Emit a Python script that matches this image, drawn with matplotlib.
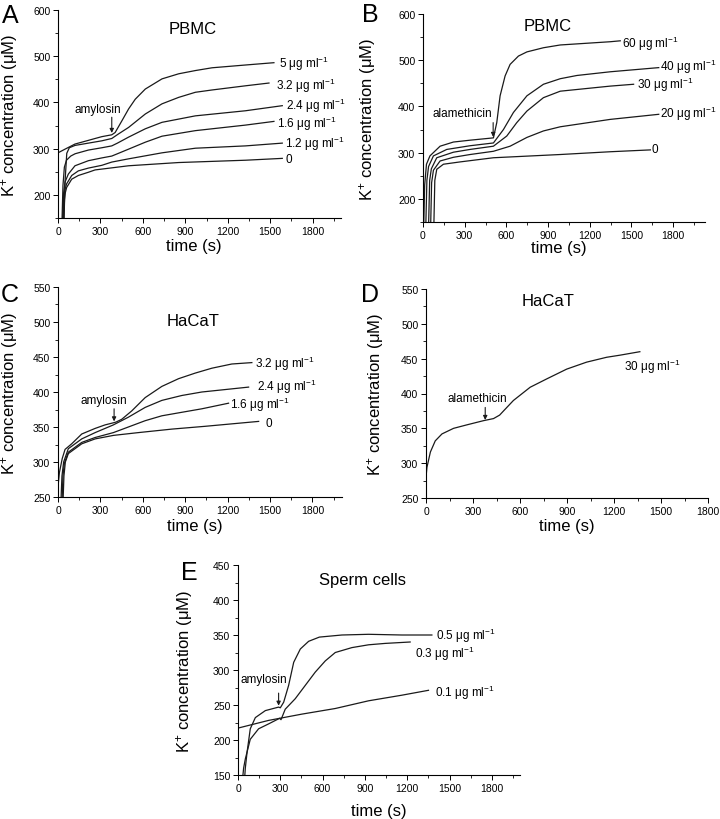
import matplotlib
matplotlib.use('Agg')
import matplotlib.pyplot as plt
from matplotlib.ticker import MultipleLocator

plt.rcParams['font.family'] = ['Liberation Sans', 'DejaVu Sans']
plt.rcParams['mathtext.fontset'] = 'custom'
plt.rcParams['mathtext.rm'] = 'Liberation Sans'
plt.rcParams['mathtext.it'] = 'Liberation Sans:italic'

# ---- Panel A: PBMC, amylosin ----
a_labels = ['5', '3.2', '2.4', '1.6', '1.2', '0']
a_t = [
    [0, 50, 120, 215, 262, 310, 380, 404, 451, 499, 546, 617, 735, 853, 971, 1089, 1325, 1526],
    [42, 50, 62, 80, 120, 215, 310, 380, 428, 499, 617, 735, 853, 971, 1089, 1325, 1491],
    [28, 35, 45, 60, 90, 121, 215, 310, 380, 420, 499, 617, 735, 971, 1325, 1585],
    [32, 40, 50, 73, 120, 215, 310, 380, 420, 499, 617, 735, 971, 1325, 1526],
    [35, 42, 50, 61, 97, 144, 215, 310, 380, 499, 735, 971, 1325, 1585],
    [40, 46, 52, 61, 97, 144, 215, 262, 499, 853, 1325, 1585],
]
a_y = [
    [291, 299, 310, 318, 322, 326, 330, 335, 360, 386, 407, 429, 451, 462, 469, 475, 481, 486],
    [140, 230, 290, 302, 307, 312, 317, 322, 332, 346, 375, 397, 411, 422, 427, 436, 442],
    [140, 220, 260, 275, 284, 289, 297, 302, 306, 312, 325, 343, 357, 371, 382, 393],
    [140, 205, 228, 245, 263, 274, 280, 284, 289, 299, 314, 327, 339, 351, 359],
    [140, 195, 212, 224, 242, 252, 258, 264, 271, 278, 291, 301, 306, 312],
    [140, 190, 205, 216, 234, 242, 249, 254, 263, 270, 275, 279],
]
a_lab_pos = [(1561, 485), (1543, 439), (1609, 395), (1550, 356), (1604, 312), (1609, 278)]

# ---- Panel B: PBMC, alamethicin ----
b_labels = ['60', '40', '30', '20', '0']
b_t = [
    [5, 12, 25, 50, 123, 219, 339, 507, 531, 555, 591, 627, 687, 748, 867, 988, 1348, 1420],
    [20, 28, 40, 75, 171, 339, 507, 579, 651, 748, 867, 988, 1108, 1348, 1697],
    [40, 48, 60, 99, 219, 339, 507, 603, 675, 748, 867, 988, 1348, 1516],
    [55, 62, 75, 123, 219, 339, 507, 627, 748, 867, 988, 1348, 1697],
    [78, 85, 99, 147, 267, 507, 988, 1348, 1637],
]
b_y = [
    [140, 230, 275, 293, 314, 323, 327, 332, 365, 423, 466, 491, 509, 518, 527, 533, 540, 542],
    [140, 240, 270, 293, 307, 315, 321, 350, 387, 423, 448, 460, 467, 475, 484],
    [140, 240, 265, 289, 301, 307, 314, 336, 365, 390, 419, 433, 444, 448],
    [140, 235, 262, 282, 290, 296, 303, 314, 333, 347, 356, 372, 383],
    [140, 240, 264, 275, 280, 289, 296, 302, 306],
]
b_lab_pos = [(1432, 538), (1704, 488), (1540, 448), (1704, 385), (1644, 307)]

# ---- Panel C: HaCaT, amylosin ----
c_labels = ['3.2', '2.4', '1.6', '0']
c_t = [
    [0, 10, 30, 50, 97, 168, 263, 333, 392, 410, 451, 522, 617, 735, 853, 971, 1089, 1230, 1372],
    [20, 28, 40, 73, 168, 263, 392, 498, 617, 735, 876, 1018, 1160, 1349],
    [28, 35, 45, 73, 168, 263, 392, 498, 617, 735, 876, 1018, 1207],
    [35, 42, 52, 73, 168, 263, 392, 569, 806, 1042, 1420],
]
c_y = [
    [265, 285, 305, 318, 326, 340, 348, 353, 356, 357, 361, 373, 392, 408, 419, 427, 434, 440, 442],
    [240, 280, 300, 319, 333, 342, 353, 364, 378, 388, 395, 400, 403, 407],
    [240, 280, 298, 314, 328, 335, 342, 350, 359, 366, 371, 376, 384],
    [240, 280, 300, 312, 326, 333, 338, 342, 347, 351, 358],
]
c_lab_pos = [(1396, 442), (1408, 409), (1219, 383), (1472, 356)]

# ---- Panel D: HaCaT, alamethicin ----
d_labels = ['30']
d_t = [[0, 6, 28, 59, 102, 176, 261, 367, 431, 470, 495, 558, 665, 771, 898, 1025, 1153, 1238, 1365]]
d_y = [[280, 294, 316, 332, 342, 350, 355, 361, 364, 369, 375, 390, 409, 421, 435, 445, 452, 455, 460]]
d_lab_pos = [(1263, 440)]

# ---- Panel E: sperm cells, amylosin ----
e_labels = ['0.5', '0.3', '0.1']
e_t = [
    [45, 52, 64, 87, 123, 194, 288, 300, 324, 359, 395, 442, 501, 577, 737, 926, 1162, 1375],
    [30, 40, 52, 87, 146, 217, 295, 305, 335, 406, 477, 548, 619, 690, 808, 926, 1044, 1221],
    [0, 217, 454, 690, 926, 1162, 1351],
]
e_y = [
    [140, 160, 182, 216, 232, 242, 247, 246, 254, 278, 311, 330, 341, 347, 350, 351, 350, 350],
    [140, 160, 173, 201, 216, 223, 231, 229, 244, 259, 278, 297, 313, 325, 332, 336, 338, 340],
    [217, 228, 237, 245, 256, 264, 271],
]
e_lab_pos = [(1406, 350), (1257, 325), (1399, 269)]

fig = plt.figure(figsize=(7.2, 8.2), dpi=100)

W, H = 720, 820


def make_panel(rect_px, xlim, ylim, ymaj, ymin):
    # rect_px: left, top, right, bottom in pixels
    l, t, r, b = rect_px
    ax = fig.add_axes([l / W, 1 - b / H, (r - l) / W, (b - t) / H])
    ax.set_xlim(*xlim)
    ax.set_ylim(*ylim)
    ax.spines['top'].set_visible(False)
    ax.spines['right'].set_visible(False)
    for s in ('left', 'bottom'):
        ax.spines[s].set_linewidth(0.8)
    ax.xaxis.set_major_locator(MultipleLocator(300))
    ax.xaxis.set_minor_locator(MultipleLocator(150))
    ax.yaxis.set_major_locator(MultipleLocator(ymaj))
    ax.yaxis.set_minor_locator(MultipleLocator(ymin))
    ax.tick_params(which='major', direction='out', length=3.5, width=0.7,
                   labelsize=7.5, pad=2)
    ax.tick_params(which='minor', direction='out', length=2, width=0.6)
    return ax


def draw(ax, ts, ys, labels, lab_pos):
    for t, y, lab, (lx, ly) in zip(ts, ys, labels, lab_pos):
        ax.plot(t, y, color='#1a1a1a', lw=0.9)
        txt = lab if lab == '0' else lab + ' μg ml$^{-1}$'
        ax.text(lx, ly, txt, fontsize=8.5, ha='left', va='center', clip_on=False)


def labels(ax, rect_px, ylab_dx, xlab_dy, xlab_x=0.48):
    l, t, r, b = rect_px
    ax.set_ylabel('K$^{+}$ concentration (μM)', fontsize=12, va='center')
    ax.yaxis.set_label_coords(-ylab_dx / (r - l), 0.5)
    ax.set_xlabel('time (s)', fontsize=12, va='center')
    ax.xaxis.set_label_coords(xlab_x, -xlab_dy / (b - t))


def arrow(ax, x, y0, y1, text, tx, ty):
    ax.annotate('', xy=(x, y1), xytext=(x, y0),
                arrowprops=dict(arrowstyle='-|>', color='#1a1a1a', lw=0.8,
                                mutation_scale=6, shrinkA=0, shrinkB=0))
    ax.text(tx, ty, text, fontsize=8.5, ha='center', va='center')


# A
rA = (58, 11, 341, 219)
axA = make_panel(rA, (0, 2000), (150, 600), 100, 50)
draw(axA, a_t, a_y, a_labels, a_lab_pos)
axA.text(950, 559, 'PBMC', fontsize=12, ha='center', va='center')
arrow(axA, 380, 368, 334, 'amylosin', 279, 386)
labels(axA, rA, 48, 28)

# B
rB = (423, 15, 705, 223)
axB = make_panel(rB, (0, 2030), (150, 600), 100, 50)
draw(axB, b_t, b_y, b_labels, b_lab_pos)
axB.text(900, 575, 'PBMC', fontsize=12, ha='center', va='center')
arrow(axB, 505, 365, 334, 'alamethicin', 286, 385)
labels(axB, rB, 55, 26)

# C
rC = (58, 288, 342, 498)
axC = make_panel(rC, (0, 2010), (250, 550), 50, 25)
draw(axC, c_t, c_y, c_labels, c_lab_pos)
axC.text(957, 502, 'HaCaT', fontsize=12, ha='center', va='center')
arrow(axC, 397, 376, 358, 'amylosin', 321, 388)
labels(axC, rC, 48, 28)

# D
rD = (426, 290, 708, 499)
axD = make_panel(rD, (0, 1800), (250, 550), 50, 25)
draw(axD, d_t, d_y, d_labels, d_lab_pos)
axD.text(779, 533, 'HaCaT', fontsize=12, ha='center', va='center')
arrow(axD, 378, 380, 362, 'alamethicin', 325, 393)
labels(axD, rD, 51, 28, 0.5)

# E
rE = (238, 566, 520, 776)
axE = make_panel(rE, (0, 2000), (150, 450), 50, 25)
draw(axE, e_t, e_y, e_labels, e_lab_pos)
axE.text(886, 429, 'Sperm cells', fontsize=12, ha='center', va='center')
arrow(axE, 288, 267, 249, 'amylosin', 182, 287)
labels(axE, rE, 53, 36, 0.5)

# panel letters
for letter, px, py in [('A', 2, 23), ('B', 362, 22), ('C', 1, 302),
                       ('D', 361, 302), ('E', 181, 580)]:
    fig.text(px / W, 1 - py / H, letter, fontsize=18, ha='left', va='baseline')

fig.savefig('out.png', dpi=100)
